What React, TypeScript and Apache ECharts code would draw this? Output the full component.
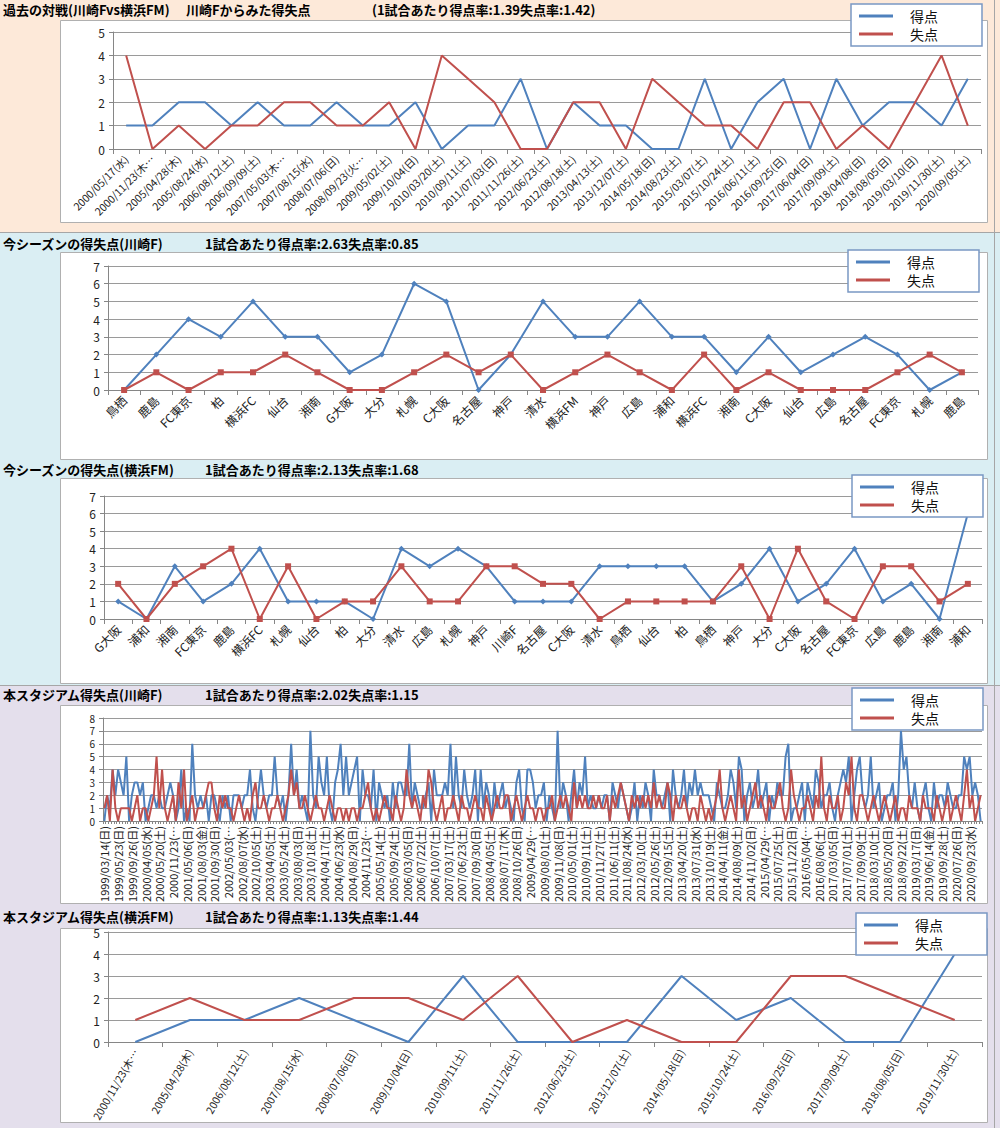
import React, { useEffect, useRef } from "react";
import * as echarts from "echarts";

const BLUE = "#4f81bd";
const RED = "#c0504d";
const FONT = "'Noto Sans CJK JP', 'Noto Sans', sans-serif";

// ---- Panel 1: 過去の対戦 ----
const p1Dates = [
  "2000/05/17(水)", "2000/11/23(木…", "2005/04/28(木)", "2005/08/24(水)", "2006/08/12(土)",
  "2006/09/09(土)", "2007/05/03(木…", "2007/08/15(水)", "2008/07/06(日)", "2008/09/23(火…",
  "2009/05/02(土)", "2009/10/04(日)", "2010/03/20(土)", "2010/09/11(土)", "2011/07/03(日)",
  "2011/11/26(土)", "2012/06/23(土)", "2012/08/18(土)", "2013/04/13(土)", "2013/12/07(土)",
  "2014/05/18(日)", "2014/08/23(土)", "2015/03/07(土)", "2015/10/24(土)", "2016/06/11(土)",
  "2016/09/25(日)", "2017/06/04(日)", "2017/09/09(土)", "2018/04/08(日)", "2018/08/05(日)",
  "2019/03/10(日)", "2019/11/30(土)", "2020/09/05(土)",
];
const p1For = [1, 1, 2, 2, 1, 2, 1, 1, 2, 1, 1, 2, 0, 1, 1, 3, 0, 2, 1, 1, 0, 0, 3, 0, 2, 3, 0, 3, 1, 2, 2, 1, 3];
const p1Against = [4, 0, 1, 0, 1, 1, 2, 2, 1, 1, 2, 0, 4, 3, 2, 0, 0, 2, 2, 0, 3, 2, 1, 1, 0, 2, 2, 0, 1, 0, 2, 4, 1];

// ---- Panel 2: 今シーズン(川崎F) ----
const p2Teams = [
  "鳥栖", "鹿島", "FC東京", "柏", "横浜FC", "仙台", "湘南", "G大阪", "大分", "札幌", "C大阪", "名古屋", "神戸",
  "清水", "横浜FM", "神戸", "広島", "浦和", "横浜FC", "湘南", "C大阪", "仙台", "広島", "名古屋", "FC東京", "札幌", "鹿島",
];
const p2For = [0, 2, 4, 3, 5, 3, 3, 1, 2, 6, 5, 0, 2, 5, 3, 3, 5, 3, 3, 1, 3, 1, 2, 3, 2, 0, 1];
const p2Against = [0, 1, 0, 1, 1, 2, 1, 0, 0, 1, 2, 1, 2, 0, 1, 2, 1, 0, 2, 0, 1, 0, 0, 0, 1, 2, 1];

// ---- Panel 3: 今シーズン(横浜FM) ----
const p3Teams = [
  "G大阪", "浦和", "湘南", "FC東京", "鹿島", "横浜FC", "札幌", "仙台", "柏", "大分", "清水", "広島", "札幌", "神戸",
  "川崎F", "名古屋", "C大阪", "清水", "鳥栖", "仙台", "柏", "鳥栖", "神戸", "大分", "C大阪", "名古屋", "FC東京",
  "広島", "鹿島", "湘南", "浦和",
];
const p3For = [1, 0, 3, 1, 2, 4, 1, 1, 1, 0, 4, 3, 4, 3, 1, 1, 1, 3, 3, 3, 3, 1, 2, 4, 1, 2, 4, 1, 2, 0, 6];
const p3Against = [2, 0, 2, 3, 4, 0, 3, 0, 1, 1, 3, 1, 1, 3, 3, 2, 2, 0, 1, 1, 1, 1, 3, 0, 4, 1, 0, 3, 3, 1, 2];

// ---- Panel 4: 本スタジアム(川崎F) ----
const p4Labels = [
  "1999/03/14(日)", "1999/05/23(日)", "1999/09/26(日)", "2000/04/05(水)", "2000/05/20(土)", "2000/11/23(…",
  "2001/05/06(日)", "2001/08/03(金)", "2001/09/30(日)", "2002/05/03(…", "2002/08/07(水)", "2002/10/05(土)",
  "2003/04/05(土)", "2003/05/24(土)", "2003/08/03(日)", "2003/10/18(土)", "2004/04/17(土)", "2004/06/23(水)",
  "2004/08/29(日)", "2004/11/23(…", "2005/05/14(土)", "2005/09/24(土)", "2006/03/05(日)", "2006/07/22(土)",
  "2006/10/07(土)", "2007/03/17(土)", "2007/06/23(土)", "2007/09/30(日)", "2008/04/05(土)", "2008/07/17(木)",
  "2008/10/26(日)", "2009/04/29(…", "2009/08/01(土)", "2009/11/08(日)", "2010/05/01(土)", "2010/09/11(土)",
  "2010/11/27(土)", "2011/06/11(土)", "2011/08/24(水)", "2012/03/10(土)", "2012/05/26(土)", "2012/09/15(土)",
  "2013/04/20(土)", "2013/07/31(水)", "2013/10/19(土)", "2014/04/11(金)", "2014/08/09(土)", "2014/11/02(日)",
  "2015/04/29(…", "2015/07/25(土)", "2015/11/22(日)", "2016/05/04(…", "2016/08/06(土)", "2017/03/05(日)",
  "2017/07/01(土)", "2017/09/09(土)", "2018/03/10(土)", "2018/05/20(日)", "2018/09/22(土)", "2019/03/17(日)",
  "2019/06/14(金)", "2019/09/28(土)", "2020/07/26(日)", "2020/09/23(水)",
];
const p4For = [
  0, 2, 1, 4, 2, 4, 3, 2, 5, 0, 2, 3, 3, 2, 3, 0, 1, 2, 2, 1,
  2, 1, 1, 2, 3, 2, 0, 1, 4, 0, 1, 0, 6, 2, 1, 2, 1, 2, 0, 2,
  2, 1, 0, 2, 1, 2, 0, 2, 2, 2, 1, 2, 2, 4, 1, 0, 2, 4, 2, 1,
  2, 2, 5, 2, 1, 2, 0, 2, 6, 2, 4, 1, 2, 1, 0, 7, 2, 1, 5, 3,
  2, 5, 1, 0, 3, 4, 6, 2, 5, 2, 3, 4, 5, 0, 4, 2, 2, 1, 4, 0,
  3, 2, 1, 2, 0, 3, 1, 3, 3, 2, 2, 6, 1, 3, 2, 1, 1, 2, 3, 0,
  4, 2, 2, 2, 3, 2, 6, 1, 5, 2, 1, 4, 2, 1, 2, 4, 0, 4, 1, 3,
  2, 0, 3, 1, 2, 3, 1, 2, 1, 0, 3, 4, 1, 0, 4, 4, 3, 1, 2, 2,
  3, 0, 2, 1, 0, 7, 1, 3, 2, 0, 2, 4, 1, 3, 2, 5, 1, 2, 1, 1,
  2, 1, 2, 2, 0, 3, 2, 1, 3, 2, 1, 0, 1, 3, 0, 2, 1, 3, 2, 0,
  4, 2, 2, 1, 2, 3, 0, 4, 2, 1, 2, 4, 1, 3, 2, 4, 2, 3, 2, 2,
  2, 1, 0, 3, 2, 1, 1, 2, 4, 3, 1, 5, 4, 0, 2, 3, 1, 2, 4, 1,
  2, 3, 0, 2, 1, 3, 2, 2, 5, 6, 0, 1, 1, 2, 3, 0, 3, 2, 1, 4,
  3, 1, 2, 2, 3, 1, 0, 2, 3, 4, 3, 5, 0, 2, 4, 5, 2, 1, 2, 5,
  1, 2, 3, 0, 1, 2, 2, 3, 0, 2, 7, 4, 5, 2, 1, 3, 1, 0, 2, 3,
  1, 0, 3, 1, 2, 2, 1, 3, 2, 1, 1, 2, 2, 5, 4, 5, 2, 3, 2, 0,
];
const p4Against = [
  1, 2, 0, 4, 1, 0, 1, 1, 1, 1, 0, 1, 2, 0, 1, 1, 0, 1, 2, 5,
  1, 4, 1, 0, 1, 2, 0, 3, 1, 4, 0, 1, 2, 0, 1, 1, 1, 2, 3, 3,
  1, 0, 2, 1, 2, 1, 1, 0, 1, 2, 1, 0, 1, 0, 2, 3, 1, 1, 2, 1,
  0, 1, 1, 2, 1, 0, 1, 2, 4, 2, 3, 1, 1, 2, 1, 0, 1, 2, 1, 1,
  0, 1, 2, 1, 0, 1, 1, 0, 1, 0, 1, 1, 0, 1, 1, 2, 3, 1, 0, 1,
  0, 1, 2, 1, 1, 0, 2, 1, 0, 1, 4, 2, 1, 2, 1, 0, 2, 1, 4, 3,
  1, 0, 1, 2, 0, 1, 1, 2, 1, 0, 2, 1, 1, 0, 1, 2, 1, 1, 0, 2,
  1, 0, 1, 2, 1, 1, 2, 2, 0, 1, 2, 1, 0, 1, 2, 1, 1, 0, 1, 1,
  0, 1, 1, 2, 0, 1, 2, 1, 2, 1, 0, 3, 1, 2, 1, 2, 1, 1, 2, 1,
  2, 1, 1, 2, 0, 2, 1, 2, 3, 2, 1, 0, 2, 1, 2, 1, 2, 1, 2, 1,
  3, 1, 2, 1, 1, 3, 2, 0, 2, 1, 1, 2, 1, 0, 1, 1, 0, 2, 1, 0,
  1, 0, 1, 2, 4, 1, 0, 1, 2, 1, 0, 4, 1, 2, 0, 1, 2, 3, 1, 2,
  1, 0, 2, 1, 1, 2, 3, 1, 0, 1, 4, 2, 1, 0, 1, 1, 2, 1, 0, 2,
  1, 5, 1, 0, 2, 1, 1, 2, 0, 1, 3, 2, 5, 1, 0, 2, 2, 1, 0, 1,
  2, 1, 0, 1, 2, 1, 0, 1, 2, 0, 1, 1, 0, 2, 1, 1, 1, 0, 2, 1,
  1, 1, 0, 2, 1, 0, 1, 2, 0, 1, 2, 1, 0, 2, 4, 1, 2, 0, 1, 2,
];

// ---- Panel 5: 本スタジアム(横浜FM) ----
const p5Dates = [
  "2000/11/23(木…", "2005/04/28(木)", "2006/08/12(土)", "2007/08/15(水)", "2008/07/06(日)", "2009/10/04(日)",
  "2010/09/11(土)", "2011/11/26(土)", "2012/06/23(土)", "2013/12/07(土)", "2014/05/18(日)", "2015/10/24(土)",
  "2016/09/25(日)", "2017/09/09(土)", "2018/08/05(日)", "2019/11/30(土)",
];
const p5For = [0, 1, 1, 2, 1, 0, 3, 0, 0, 0, 3, 1, 2, 0, 0, 4];
const p5Against = [1, 2, 1, 1, 2, 2, 1, 3, 0, 1, 0, 0, 3, 3, 2, 1];

const titles = [
  { y: 9, a: "過去の対戦(川崎Fvs横浜FM)", b: "川崎Fからみた得失点", bx: 186, c: "(1試合あたり得点率:1.39失点率:1.42)", cx: 372 },
  { y: 243, a: "今シーズンの得失点(川崎F)", b: "1試合あたり得点率:2.63失点率:0.85", bx: 205 },
  { y: 469, a: "今シーズンの得失点(横浜FM)", b: "1試合あたり得点率:2.13失点率:1.68", bx: 205 },
  { y: 694, a: "本スタジアム得失点(川崎F)", b: "1試合あたり得点率:2.02失点率:1.15", bx: 205 },
  { y: 916, a: "本スタジアム得失点(横浜FM)", b: "1試合あたり得点率:1.13失点率:1.44", bx: 205 },
];

export default function App() {
  const ref = useRef<HTMLDivElement>(null);
  useEffect(() => {
    document.body.style.margin = "0";
    const chart = echarts.init(ref.current!, undefined, { renderer: "svg" });

    const p4Cats = p4For.map((_, i) => (i % 5 === 0 ? p4Labels[i / 5] : "#" + i));

    const grids = [
      { left: 113, top: 32, width: 868, height: 117 },
      { left: 108, top: 266, width: 870, height: 124 },
      { left: 104, top: 496, width: 878, height: 123 },
      { left: 103, top: 718, width: 879, height: 103 },
      { left: 108, top: 932, width: 874, height: 110 },
    ];
    const yMax = [5, 7, 7, 8, 5];
    const cats = [p1Dates, p2Teams, p3Teams, p4Cats, p5Dates];
    const rot = [45, 45, 45, 90, 60];
    const fors = [p1For, p2For, p3For, p4For, p5For];
    const agst = [p1Against, p2Against, p3Against, p4Against, p5Against];
    const legendPos = [
      { left: 851, top: 4 },
      { left: 848, top: 250 },
      { left: 852, top: 475 },
      { left: 852, top: 688 },
      { left: 856, top: 913 },
    ];

    const series: any[] = [];
    fors.forEach((d, k) => {
      const marker = k === 1 || k === 2;
      series.push({
        name: "得点", type: "line", xAxisIndex: k, yAxisIndex: k, data: d,
        symbol: marker ? "diamond" : "none", symbolSize: 6, showSymbol: marker,
        lineStyle: { color: BLUE, width: 2 }, itemStyle: { color: BLUE }, z: 3,
      });
      series.push({
        name: "失点", type: "line", xAxisIndex: k, yAxisIndex: k, data: agst[k],
        symbol: marker ? "rect" : "none", symbolSize: 6, showSymbol: marker,
        lineStyle: { color: RED, width: 2 }, itemStyle: { color: RED }, z: 4,
      });
    });

    const graphics: any[] = [
      { type: "rect", shape: { x: 0, y: 0, width: 1000, height: 233 }, style: { fill: "#fde9d9" }, z: -10, silent: true },
      { type: "rect", shape: { x: 0, y: 233, width: 1000, height: 453 }, style: { fill: "#daeef3" }, z: -10, silent: true },
      { type: "rect", shape: { x: 0, y: 686, width: 1000, height: 442 }, style: { fill: "#e4dfec" }, z: -10, silent: true },
      { type: "line", shape: { x1: 0, y1: 232.5, x2: 1000, y2: 232.5 }, style: { stroke: "#a6a6a6", lineWidth: 1 }, z: -9, silent: true },
      { type: "line", shape: { x1: 0, y1: 685.5, x2: 1000, y2: 685.5 }, style: { stroke: "#a6a6a6", lineWidth: 1 }, z: -9, silent: true },
      { type: "line", shape: { x1: 994.5, y1: 0, x2: 994.5, y2: 1128 }, style: { stroke: "#a6a6a6", lineWidth: 1 }, z: -9, silent: true },
    ];
    const whites = [
      [60, 20, 927, 202],
      [60, 252, 927, 207],
      [60, 478, 927, 205],
      [60, 705, 927, 198],
      [60, 928, 927, 194],
    ];
    whites.forEach(([x, y, w, h]) =>
      graphics.push({
        type: "rect", shape: { x: x + 0.5, y: y + 0.5, width: w, height: h },
        style: { fill: "#ffffff", stroke: "#b0b0b0", lineWidth: 1 }, z: -8, silent: true,
      })
    );
    titles.forEach((t) => {
      graphics.push({
        type: "text", x: 3, y: t.y, z: 10,
        style: { text: t.a, font: `bold 13px ${FONT}`, fill: "#000", textVerticalAlign: "middle" },
      });
      graphics.push({
        type: "text", x: t.bx, y: t.y, z: 10,
        style: { text: t.b, font: `bold 13px ${FONT}`, fill: "#000", textVerticalAlign: "middle" },
      });
      if (t.c) {
        graphics.push({
          type: "text", x: t.cx, y: t.y, z: 10,
          style: { text: t.c, font: `bold 13px ${FONT}`, fill: "#000", textVerticalAlign: "middle" },
        });
      }
    });

    const option: any = {
      animation: false,
      textStyle: { fontFamily: FONT },
      graphic: { elements: graphics },
      grid: grids.map((g) => ({ ...g, containLabel: false })),
      legend: legendPos.map((p) => ({
        ...p,
        orient: "vertical",
        data: ["得点", "失点"],
        icon: "rect",
        itemWidth: 34,
        itemHeight: 3,
        itemGap: 4,
        backgroundColor: "#ffffff",
        borderColor: "#7a98c4",
        borderWidth: 1.5,
        borderRadius: 0,
        padding: [5, 44, 5, 8],
        textStyle: { fontSize: 14, color: "#111", fontFamily: FONT, padding: [0, 0, 0, 12] },
        z: 20,
      })),
      xAxis: cats.map((c, k) => ({
        type: "category",
        gridIndex: k,
        data: c,
        boundaryGap: true,
        axisLine: { show: true, lineStyle: { color: "#868686" } },
        axisTick: { show: true, interval: 0, length: k === 3 ? 3 : 5, lineStyle: { color: "#868686" } },
        axisLabel: {
          interval: k === 3 ? 4 : 0,
          rotate: rot[k],
          fontSize: k === 1 || k === 2 ? 12 : k === 3 ? 11 : 10.5,
          color: "#222",
          fontFamily: FONT,
          margin: k === 3 ? 5 : 8,
        },
        splitLine: { show: false },
      })),
      yAxis: yMax.map((m, k) => ({
        type: "value",
        gridIndex: k,
        min: 0,
        max: m,
        interval: 1,
        axisLine: { show: true, lineStyle: { color: "#868686" } },
        axisTick: { show: true, length: 4, lineStyle: { color: "#868686" } },
        axisLabel: {
          fontSize: k === 3 ? 10 : 12,
          lineHeight: k === 3 ? 10 : 12,
          color: "#222",
          fontFamily: FONT,
          margin: 8,
        },
        splitLine: { show: true, lineStyle: { color: "#9a9a9a", width: 1 } },
      })),
      series,
    };
    chart.setOption(option);
    return () => chart.dispose();
  }, []);
  return <div ref={ref} style={{ width: 1000, height: 1128 }} />;
}
